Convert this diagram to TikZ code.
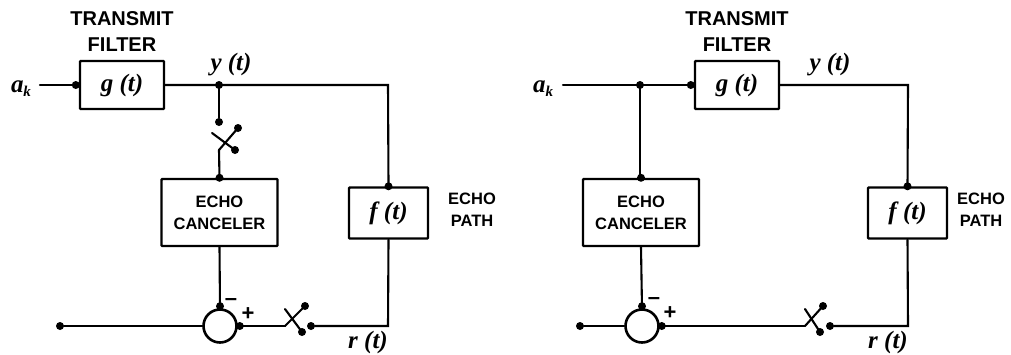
\documentclass[tikz,border=0pt]{standalone}
\usepackage{fontspec}
\setmainfont{Liberation Sans}
\newfontfamily\sigfont{Liberation Serif}
\tikzset{
 x=1pt,y=-1pt,
 wire/.style={line width=2.1pt,line cap=round},
 blockbox/.style={draw,line width=2.4pt,inner sep=0pt,rounded corners=0.8pt},
 lbl/.style={font=\bfseries\fontsize{16.5}{17}\selectfont,inner sep=0pt,align=center},
 lblbig/.style={font=\bfseries\fontsize{20}{26}\selectfont,inner sep=0pt,align=center},
 sig/.style={font=\sigfont\bfseries\itshape\fontsize{25}{26}\selectfont,inner sep=0pt},
 sumc/.style={circle,draw,line width=2.6pt,minimum size=33pt,inner sep=0pt},
 dotn/.style={circle,fill,inner sep=0pt,minimum size=8pt},
 sgn/.style={font=\bfseries\fontsize{22}{22}\selectfont,inner sep=0pt},
}
\newcommand{\sw}[4]{% hinge, arm end, cross start, cross end
 \draw[wire] (#1) -- (#2);
 \fill (#2) circle (4pt);
 \draw[wire] (#3) -- (#4);
 \fill (#4) circle (4pt);
}
\newcommand{\ak}{a\raisebox{-4pt}{\fontsize{15}{15}\selectfont k}}
\begin{document}
\begin{tikzpicture}
\useasboundingbox (0,0) rectangle (1011,354);
% ---------- left
\node[sig] (a1) at (21,89) {\ak};
\coordinate (as1) at (40,85);
\node[blockbox,minimum width=84pt,minimum height=48pt] (g1) at (122,85) {};
\node[sig] (gt1) at (g1.center) {g (t)};
\node[lblbig] (tf1) at (122,32) {TRANSMIT\\FILTER};
\node[sig] (y1) at (231,65) {y (t)};
\coordinate (j1) at (219,85);
\coordinate (c1) at (388,85);
\node[blockbox,minimum width=79pt,minimum height=51pt] (f1) at (388.5,213) {};
\node[sig] (ft1) at (f1.center) {f (t)};
\node[lbl] (ep1) at (472,210) {ECHO\\[5pt]PATH};
\node[blockbox,minimum width=116pt,minimum height=67pt] (ec1) at (219.5,212.5) {};
\node[lbl] (ect1) at (ec1.center) {ECHO\\[5pt]CANCELER};
\node[sumc] (s1) at (220,326) {};
\node[dotn] (o1) at (60,326) {};
\coordinate (r1) at (388,326);
\node[sig] (rl1) at (368,342) {r (t)};
\node[dotn] (sa1) at (219,122) {};
\coordinate (sb1) at (219,150);
\node[dotn] (sc1) at (311,326) {};
\coordinate (sd1) at (285,326);
\node[sgn] (m1) at (231,302) {–};
\node[sgn] (p1) at (248,314) {+};
\draw[wire] (as1) -- (g1.west);
\fill (g1.west) ++(-3,0) circle (4pt);
\draw[wire] (g1.east) -- (c1) -- (f1.north);
\fill (f1.north) circle (4pt);
\fill (j1) circle (4pt);
\draw[wire] (j1) -- (sa1);
\draw[wire] (sb1) -- (ec1.north);
\fill (ec1.north) circle (4pt);
\sw{sb1}{238,128}{212,133}{235,150}
\draw[wire] (ec1.south) -- (s1.north);
\fill (s1.north) ++(0,-2) circle (4pt);
\draw[wire] (s1.west) -- (o1);
\draw[wire] (s1.east) -- (sd1);
\fill (s1.east) ++(2,0) circle (4pt);
\sw{sd1}{305,306}{285,309}{302,332}
\draw[wire] (sc1) -- (r1) -- (f1.south);
% ---------- right
\node[sig] (a2) at (543,89) {\ak};
\coordinate (as2) at (563,85);
\node[blockbox,minimum width=84pt,minimum height=48pt] (g2) at (737,85) {};
\node[sig] (gt2) at (g2.center) {g (t)};
\node[lblbig] (tf2) at (737,32) {TRANSMIT\\FILTER};
\node[sig] (y2) at (830,65) {y (t)};
\coordinate (j2) at (640,85);
\coordinate (c2) at (908,85);
\node[blockbox,minimum width=79pt,minimum height=51pt] (f2) at (907.5,213) {};
\node[sig] (ft2) at (f2.center) {f (t)};
\node[lbl] (ep2) at (981,210) {ECHO\\[5pt]PATH};
\node[blockbox,minimum width=116pt,minimum height=67pt] (ec2) at (641,212.5) {};
\node[lbl] (ect2) at (ec2.center) {ECHO\\[5pt]CANCELER};
\node[sumc] (s2) at (642,326) {};
\node[dotn] (o2) at (580,326) {};
\coordinate (r2) at (908,326);
\node[sig] (rl2) at (888,342) {r (t)};
\node[dotn] (sc2) at (830,326) {};
\coordinate (sd2) at (805,326);
\node[sgn] (m2) at (654,301) {–};
\node[sgn] (p2) at (670,313) {+};
\draw[wire] (as2) -- (g2.west);
\fill (g2.west) ++(-3,0) circle (4pt);
\fill (j2) circle (4pt);
\draw[wire] (j2) -- (j2 |- ec2.north);
\fill (ec2.north) circle (4pt);
\draw[wire] (g2.east) -- (c2) -- (f2.north);
\fill (f2.north) circle (4pt);
\draw[wire] (ec2.south) -- (s2.north);
\fill (s2.north) ++(0,-2) circle (4pt);
\draw[wire] (s2.west) -- (o2);
\draw[wire] (s2.east) -- (sd2);
\fill (s2.east) ++(2,0) circle (4pt);
\sw{sd2}{823,306}{805,309}{820,332}
\draw[wire] (sc2) -- (r2) -- (f2.south);
\end{tikzpicture}
\end{document}
